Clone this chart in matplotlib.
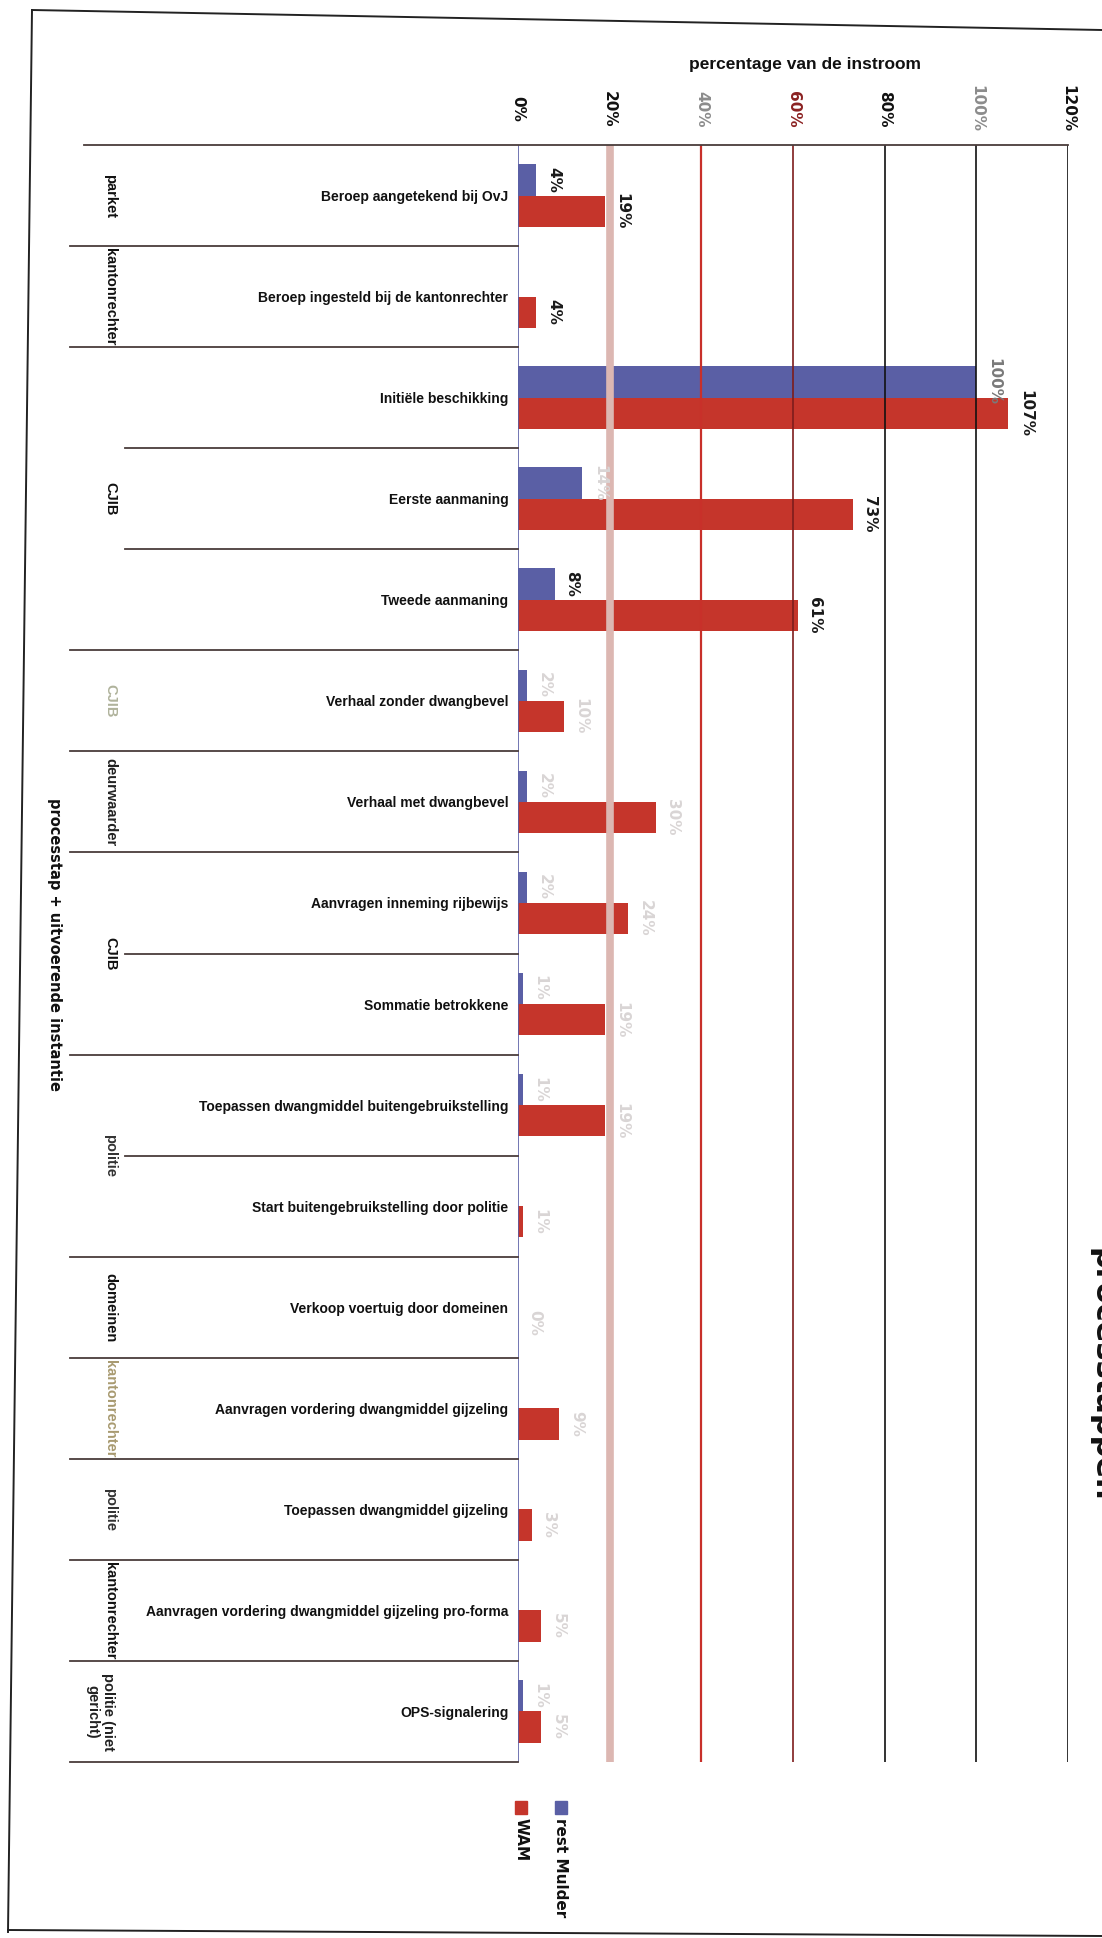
import matplotlib
matplotlib.use('Agg')
import matplotlib.pyplot as plt
import matplotlib.transforms as mtransforms
from matplotlib.lines import Line2D
from matplotlib.patches import Rectangle

# ---------------- data ----------------
categories = [
    "Beroep aangetekend bij OvJ",
    "Beroep ingesteld bij de kantonrechter",
    "Initiële beschikking",
    "Eerste aanmaning",
    "Tweede aanmaning",
    "Verhaal zonder dwangbevel",
    "Verhaal met dwangbevel",
    "Aanvragen inneming rijbewijs",
    "Sommatie betrokkene",
    "Toepassen dwangmiddel buitengebruikstelling",
    "Start buitengebruikstelling door politie",
    "Verkoop voertuig door domeinen",
    "Aanvragen vordering dwangmiddel gijzeling",
    "Toepassen dwangmiddel gijzeling",
    "Aanvragen vordering dwangmiddel gijzeling pro-forma",
    "OPS-signalering",
]
rest_mulder = [4, 0, 100, 14, 8, 2, 2, 2, 1, 1, 0, 0, 0, 0, 0, 1]
wam = [19, 4, 107, 73, 61, 10, 30, 24, 19, 19, 1, 0, 9, 3, 5, 5]

groups = ["parket", "kantonrechter", "CJIB", "CJIB", "deurwaarder", "CJIB",
          "politie", "domeinen", "kantonrechter", "politie", "kantonrechter",
          "politie (niet\ngericht)"]
group_sizes = [1, 1, 3, 1, 1, 2, 2, 1, 1, 1, 1, 1]

tick_values = [0, 20, 40, 60, 80, 100, 120]
tick_labels = ["0%", "20%", "40%", "60%", "80%", "100%", "120%"]

series_names = ["rest Mulder", "WAM"]
axis_title = "percentage van de instroom"
y_title = "processtap + uitvoerende instantie"
side_title = "processtappen"

# ---------------- style ----------------
W, H = 1102, 1938
BLUE = "#5a5fa5"
RED = "#c5352b"
FAINT = "#d9d5d5"
NARROW = ["Liberation Sans", "DejaVu Sans"]


def fx(px):
    return px / W


def fy(py):
    return 1 - py / H


fig = plt.figure(figsize=(W / 100, H / 100), dpi=100)
fig.patch.set_facecolor("white")
ax_left, ax_right, ax_top, ax_bot = 518, 1068, 145, 1762
ax = fig.add_axes([fx(ax_left), fy(ax_bot), fx(ax_right) - fx(ax_left),
                   fy(ax_top) - fy(ax_bot)])
ax.set_facecolor("none")
n = len(categories)
ys = list(range(n))
ax.set_xlim(0, 120)
ax.set_ylim(n - 0.5, -0.5)
for s in ax.spines.values():
    s.set_visible(False)

bh = 0.31
ax.barh([y - bh / 2 for y in ys], rest_mulder, height=bh, color=BLUE, zorder=2)
ax.barh([y + bh / 2 for y in ys], wam, height=bh, color=RED, zorder=2)

# gridlines (drawn over the bars, as in the scan)
grid_styles = {0: (BLUE, 1.2), 20: ("#dcb7b2", 5.5), 40: ("#c8302a", 1.6),
               60: ("#7e1c1c", 1.2), 80: ("#111111", 1.2),
               100: ("#111111", 1.2), 120: ("#111111", 1.2)}
for v in tick_values:
    c, lw = grid_styles[v]
    ax.axvline(v, color=c, lw=lw, zorder=3)

# value labels
for i, (b, r) in enumerate(zip(rest_mulder, wam)):
    if i < 5:
        cb = "#1a1a1a"
        cr = "#1a1a1a"
        if i == 2:
            cb = "#7a7a7a"
        if i == 3:
            cb = FAINT
    else:
        cb = cr = FAINT
    if b > 0:
        ax.annotate(f"{b}%", xy=(b, i - bh / 2), xytext=(7, 0),
                    textcoords="offset points", rotation=-90, ha="left",
                    va="center", fontsize=11, fontweight="bold", color=cb,
                    zorder=4)
    ax.annotate(f"{r}%", xy=(r, i + bh / 2), xytext=(7, 0),
                textcoords="offset points", rotation=-90, ha="left",
                va="center", fontsize=11, fontweight="bold", color=cr,
                zorder=4)

# ticks on top
ax.xaxis.tick_top()
ax.set_xticks(tick_values)
ax.set_xticklabels(tick_labels, rotation=-90, va="center", ha="center",
                   fontsize=11, fontweight="bold")
ax.tick_params(axis="x", length=0, pad=26)
tick_colors = ["#111111", "#111111", "#8c8c8c", "#8b2222", "#111111",
               "#8c8c8c", "#111111"]
for lab, c in zip(ax.get_xticklabels(), tick_colors):
    lab.set_color(c)

ax.set_yticks(ys)
ax.set_yticklabels(categories, fontsize=10, fontweight="bold",
                   family=NARROW, color="#111111")
ax.tick_params(axis="y", length=0, pad=7)

# separators and group labels
blend = mtransforms.blended_transform_factory(fig.transFigure, ax.transData)
SEP = "#4a3d3b"
fig.add_artist(Line2D([fx(84), fx(ax_right)], [fy(ax_top), fy(ax_top)],
                      color=SEP, lw=1.3))
group_colors = ["#111111", "#111111", "#111111", "#b0b39c", "#222222",
                "#111111", "#333333", "#111111", "#a89a70", "#333333",
                "#111111", "#222222"]
start = 0
group_ends = set()
for g, size, gc in zip(groups, group_sizes, group_colors):
    end = start + size
    group_ends.add(end)
    centre = (start + end - 1) / 2
    gx = fx(110) if "\n" not in g else fx(100)
    fig.text(gx, centre, g, transform=blend,
             rotation=-90, ha="center", va="center", fontsize=10.5,
             fontweight="bold", family=NARROW, color=gc, linespacing=1.1)
    start = end
for b in range(1, n + 1):
    x0 = fx(70) if b in group_ends else fx(125)
    fig.add_artist(Line2D([x0, fx(ax_left)], [b - 0.5, b - 0.5],
                          transform=blend, color=SEP, lw=1.3))

# titles
fig.text(fx(805), fy(65), axis_title, ha="center", va="center", fontsize=12.5,
         fontweight="bold", family=NARROW, color="#111111")
fig.text(fx(54), fy(945), y_title, rotation=-90, ha="center", va="center",
         fontsize=10.5, fontweight="bold", color="#111111")
# title of the scanned page, cut off at the right edge
fig.text(fx(1087), fy(1375), side_title, rotation=-90, ha="left", va="center",
         fontsize=22, fontweight="bold", color="#111111")

# legend
for name, c, xc in zip(series_names, [BLUE, RED], [561, 521]):
    fig.add_artist(Rectangle((fx(xc - 6), fy(1814)), fx(12), fy(1801) - fy(1814),
                             transform=fig.transFigure, color=c))
    fig.text(fx(xc), fy(1818), name, rotation=-90, ha="center", va="top",
             fontsize=11, fontweight="bold", color="#111111")

# page border from the scan
for (x0, y0), (x1, y1) in [((32, 10), (1102, 30)), ((32, 10), (8, 1932)),
                           ((8, 1930), (1102, 1936))]:
    fig.add_artist(Line2D([fx(x0), fx(x1)], [fy(y0), fy(y1)], color="#222222",
                          lw=1.4))

fig.savefig("out.png", dpi=100)
